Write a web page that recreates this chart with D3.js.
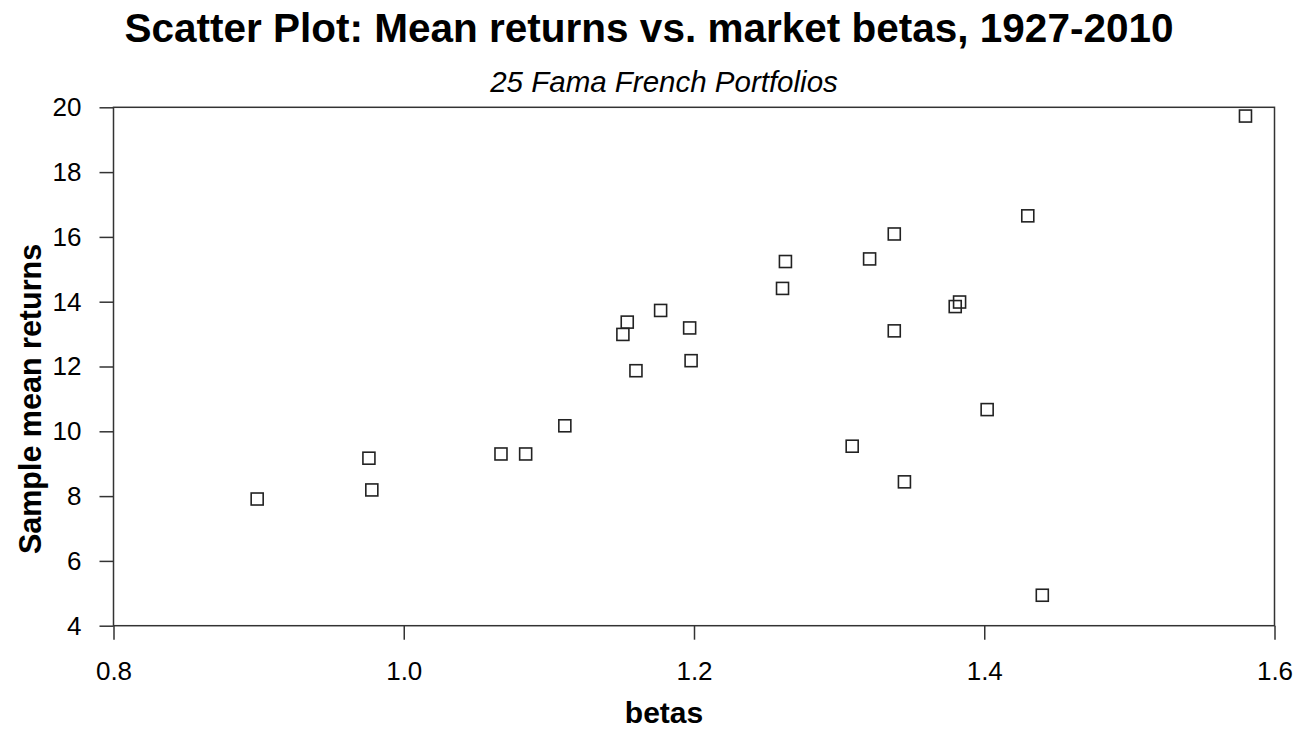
<!DOCTYPE html>
<html>
<head>
<meta charset="utf-8">
<script src="https://cdn.jsdelivr.net/npm/d3@7"></script>
<style>
  body { margin: 0; background: #fff; }
  svg text { font-family: "Liberation Sans", Arial, sans-serif; fill: #000; }
  .axis path { display: none; }
  .axis line { stroke: #333; stroke-width: 1.5; }
  .axis text { font-size: 26px; }
</style>
</head>
<body>
<svg width="1297" height="730"></svg>
<script>
// 25 Fama French portfolios: market beta and sample mean return (%)
var betas = [0.899, 0.976, 0.978, 1.067, 1.084, 1.111, 1.151, 1.154, 1.160, 1.177,
             1.197, 1.198, 1.261, 1.263, 1.309, 1.321, 1.338, 1.338, 1.345, 1.380,
             1.383, 1.402, 1.430, 1.440, 1.580];
var meanReturns = [7.91, 9.17, 8.19, 9.30, 9.30, 10.17, 12.99, 13.37, 11.87, 13.73,
                   13.19, 12.18, 14.41, 15.24, 9.54, 15.32, 16.09, 13.10, 8.44, 13.85,
                   13.99, 10.67, 16.65, 4.94, 19.73];
var xTicks = [0.8, 1.0, 1.2, 1.4, 1.6],
    yTicks = [4, 6, 8, 10, 12, 14, 16, 18, 20];

var svg = d3.select("svg"),
    pLeft = 113.5, pRight = 1274.5, pTop = 107.3, pBottom = 625.7;

var x = d3.scaleLinear().domain([0.8, 1.6]).range([pLeft, pRight]),
    y = d3.scaleLinear().domain([4, 20]).range([pBottom, pTop]);

svg.append("text")
    .attr("x", 649).attr("y", 42)
    .attr("text-anchor", "middle")
    .style("font-size", "40.5px").style("font-weight", "bold")
    .text("Scatter Plot: Mean returns vs. market betas, 1927-2010");

svg.append("text")
    .attr("x", 664).attr("y", 92)
    .attr("text-anchor", "middle")
    .style("font-size", "29.5px").style("font-style", "italic")
    .text("25 Fama French Portfolios");

svg.append("g")
    .attr("class", "axis")
    .attr("transform", "translate(0," + pBottom + ")")
    .call(d3.axisBottom(x).tickValues(xTicks).tickFormat(d3.format(".1f"))
      .tickSize(14).tickSizeOuter(0).tickPadding(22));

svg.append("g")
    .attr("class", "axis")
    .attr("transform", "translate(" + pLeft + ",0)")
    .call(d3.axisLeft(y).tickValues(yTicks).tickSize(14).tickSizeOuter(0).tickPadding(18));

svg.append("rect")
    .attr("x", pLeft).attr("y", pTop)
    .attr("width", pRight - pLeft).attr("height", pBottom - pTop)
    .style("fill", "none").style("stroke", "#333").style("stroke-width", 1.5);

svg.selectAll(".pt")
    .data(betas)
  .enter().append("rect")
    .attr("class", "pt")
    .attr("x", function(d) { return x(d) - 6; })
    .attr("y", function(d, i) { return y(meanReturns[i]) - 6; })
    .attr("width", 12).attr("height", 12)
    .style("fill", "none").style("stroke", "#222").style("stroke-width", 1.6);

svg.append("text")
    .attr("x", 664).attr("y", 723)
    .attr("text-anchor", "middle")
    .style("font-size", "30px").style("font-weight", "bold")
    .text("betas");

svg.append("text")
    .attr("transform", "translate(41,399)rotate(-90)")
    .attr("text-anchor", "middle")
    .style("font-size", "30.5px").style("font-weight", "bold")
    .text("Sample mean returns");
</script>
</body>
</html>
